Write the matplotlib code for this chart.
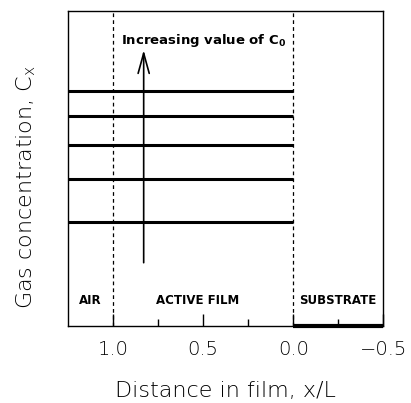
import matplotlib
matplotlib.use("Agg")
import matplotlib.pyplot as plt

# Data
line_levels = [0.745, 0.667, 0.574, 0.466, 0.328]   # gas concentration levels (relative)
film_x = [1.25, 0.0]                                # lines span air + active film
substrate_x = [0.0, -0.5]
substrate_y = [0.0, 0.0]
boundaries = [1.0, 0.0]
major_ticks = [1.0, 0.5, 0.0, -0.5]
major_labels = ["1.0", "0.5", "0.0", "\u22120.5"]
minor_ticks = [0.75, 0.25, -0.25]
arrow_x = 0.83
arrow_y = (0.20, 0.875)
regions = [("AIR", 1.125, 0.08), ("ACTIVE FILM", 0.53, 0.08), ("SUBSTRATE", -0.25, 0.08)]

fig = plt.figure(figsize=(4.11, 4.03), dpi=100)
ax = fig.add_axes([0.1655, 0.1918, 0.767, 0.7816])
ax.set_xlim(1.25, -0.5)
ax.set_ylim(0, 1)

for y in line_levels:
    ax.plot(film_x, [y, y], color="black", lw=2.2, solid_capstyle="butt")
ax.plot(substrate_x, substrate_y, color="black", lw=3, clip_on=False, solid_capstyle="butt")
for b in boundaries:
    ax.axvline(b, color="black", lw=0.9, ls=(0, (3, 2.5)))

ax.annotate("", xy=(arrow_x, arrow_y[1]), xytext=(arrow_x, arrow_y[0]),
            arrowprops=dict(arrowstyle="->,head_length=1.45,head_width=0.4", lw=1.2,
                            color="black", shrinkA=0, shrinkB=0))
ax.text(0.955, 0.905, "Increasing value of C$_\\mathbf{0}$", fontsize=9.5, fontweight="bold",
        ha="left", va="center")
for name, x, y in regions:
    ax.text(x, y, name, fontsize=8.5, fontweight="bold", ha="center", va="center")

ax.set_xticks(major_ticks)
ax.set_xticklabels(major_labels, fontsize=14, fontweight="light", color="black")
ax.set_xticks(minor_ticks, minor=True)
ax.tick_params(axis="x", which="major", direction="in", length=9, width=1, pad=10)
ax.tick_params(axis="x", which="minor", direction="in", length=5, width=1)
ax.set_yticks([])
for s in ax.spines.values():
    s.set_linewidth(1)
ax.set_xlabel("Distance in film, x/L", fontsize=16, fontweight="light")
ax.xaxis.set_label_coords(0.5, -0.175)
ax.set_ylabel("Gas concentration, C$_\\mathregular{x}$", fontsize=16, fontweight="light")
ax.yaxis.set_label_coords(-0.095, 0.44)

fig.savefig("out.png", dpi=100)
